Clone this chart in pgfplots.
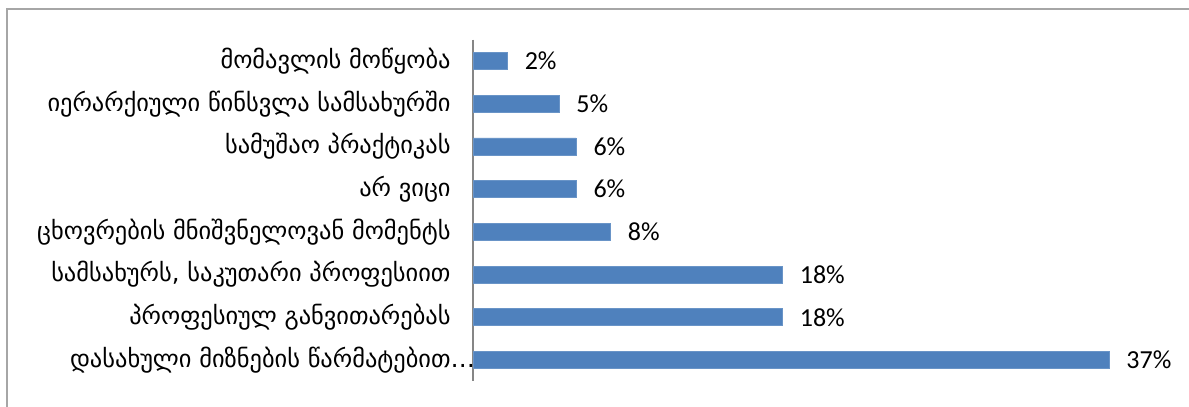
\documentclass[border=0pt]{standalone}
\usepackage{pgfplots}
\pgfplotsset{compat=1.18}
\usepackage{fontspec}
\setmainfont{DejaVu Sans}
\newfontfamily\calibri{Carlito}
\definecolor{barblue}{HTML}{4F81BD}
\definecolor{framegray}{HTML}{A6A6A6}
\definecolor{axisgray}{HTML}{868686}
\begin{document}
\begin{tikzpicture}
\begin{axis}[
  at={(236.5pt,12.8pt)}, anchor=south west,
  scale only axis, width=343.8pt, height=170.9pt,
  xbar, bar width=8.5pt,
  xmin=0, xmax=40, ymin=-0.5, ymax=7.5, y dir=reverse,
  axis x line=none, axis y line*=left,
  y axis line style={axisgray, line width=0.8pt, -},
  ytick={0,...,7},
  yticklabels={
    მომავლის მოწყობა,
    იერარქიული წინსვლა სამსახურში,
    სამუშაო პრაქტიკას,
    არ ვიცი,
    ცხოვრების მნიშვნელოვან მომენტს,
    {სამსახურს, საკუთარი პროფესიით},
    პროფესიულ განვითარებას,
    დასახული მიზნების წარმატებით\rlap{…}
  },
  major tick length=0pt,
  yticklabel style={font=\fontsize{12.2}{14}\selectfont, anchor=east, inner sep=0pt, xshift=-11pt},
  point meta=x,
  /pgf/number format/assume math mode=true,
  nodes near coords={\pgfmathprintnumber{\pgfplotspointmeta}\%},
  nodes near coords style={font=\calibri\fontsize{13}{15}\selectfont, anchor=west, inner sep=0pt, xshift=8.5pt, black},
]
\addplot[fill=barblue, draw=barblue!85!white] coordinates {
  (2,0) (5,1) (6,2) (6,3) (8,4) (18,5) (18,6) (37,7)
};
\end{axis}
\draw[framegray, line width=1pt] (3.5pt,0pt) -- (3.5pt,199pt) -- (594.5pt,199pt);
\pgfresetboundingbox
\useasboundingbox (0,0) rectangle (594.5pt,203.5pt);
\end{tikzpicture}
\end{document}
